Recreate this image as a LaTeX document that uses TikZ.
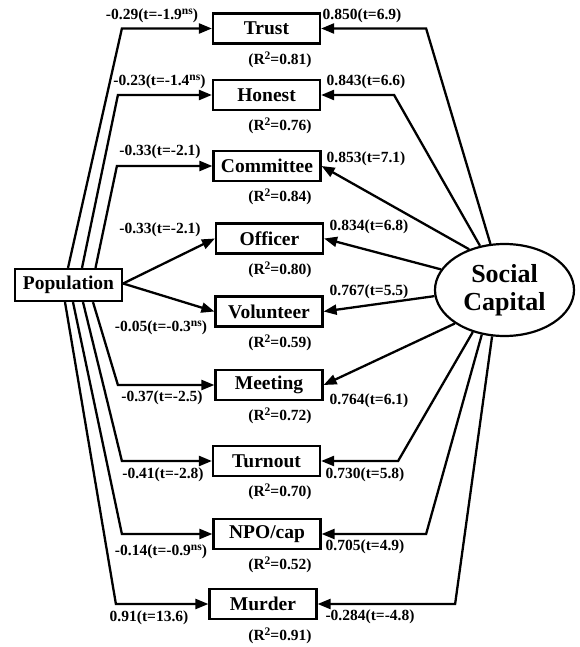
\documentclass[tikz,border=0pt]{standalone}
\usepackage{fontspec}
\setmainfont{Liberation Serif}
\usetikzlibrary{arrows.meta,shapes.geometric}
% raised superscript at about three quarters of the running size
\newcommand\upmark[1]{\raisebox{0.33em}{\fontsize{11.5}{12}\selectfont #1}}
\begin{document}
\begin{tikzpicture}[x=1pt,y=-1pt,
  varbox/.style={draw, line width=2.2pt, minimum width=107pt, minimum height=30pt,
    inner sep=0pt, font=\fontsize{19.5}{21}\selectfont\bfseries},
  latent/.style={ellipse, draw, line width=2.2pt, minimum width=139pt, minimum height=92pt,
    inner sep=0pt, align=center, font=\fontsize{26}{28}\selectfont\bfseries},
  link/.style={line width=2.3pt, line join=miter, -{Triangle[length=13pt,width=10pt]}},
  coef/.style={inner sep=0pt, font=\fontsize{15.5}{17}\selectfont\bfseries},
  rsq/.style={coef}
]
\useasboundingbox (0,0) rectangle (579,647);

% observed indicators
\node[varbox] (trust)     at (266.5,28.5) {Trust};
\node[varbox] (honest)    at (266.5,95)   {Honest};
\node[varbox] (committee) at (267,166)    {Committee};
\node[varbox] (officer)   at (269.5,238.5){Officer};
\node[varbox] (volunteer) at (269,311.5)  {Volunteer};
\node[varbox] (meeting)   at (269,385)    {Meeting};
\node[varbox] (turnout)   at (266.5,461)  {Turnout};
\node[varbox] (npo)       at (267,534)    {NPO/cap};
\node[varbox] (murder)    at (263,604)    {Murder};

% exogenous variable and latent factor
\node[varbox, minimum height=32pt] (pop) at (68.5,285) {Population};
\node[latent] (sc) at (504.5,290) {Social\\Capital};

% paths from Population
\draw[link] ([xshift=-0.5pt]pop.north) -- ([xshift=-90pt]trust.west) -- (trust.west);
\draw[link] ([xshift=13.5pt]pop.north) -- ([xshift=-94pt]honest.west) -- (honest.west);
\draw[link] ([xshift=27pt]pop.north) -- ([xshift=-95.5pt]committee.west) -- (committee.west);
\draw[link] ([yshift=1.5pt]pop.east) -- (officer.west);
\draw[link] ([yshift=1.5pt]pop.east) -- (volunteer.west);
\draw[link] ([xshift=24.5pt]pop.south) -- ([xshift=-96.5pt]meeting.west) -- (meeting.west);
\draw[link] ([xshift=14.5pt]pop.south) -- ([xshift=-90pt]turnout.west) -- (turnout.west);
\draw[link] ([xshift=4.5pt]pop.south) -- ([xshift=-90.5pt]npo.west) -- (npo.west);
\draw[link] ([xshift=-3.5pt]pop.south) -- ([xshift=-92.5pt]murder.west) -- (murder.west);

% loadings from Social Capital
\draw[link] (sc.107) -- ([xshift=105pt]trust.east) -- (trust.east);
\draw[link] (sc.119) -- ([xshift=73pt]honest.east) -- (honest.east);
\draw[link] (sc.131) -- (committee.east);
\draw[link] (sc.162) -- (officer.east);
\draw[link] (sc.185) -- (volunteer.east);
\draw[link] (sc.214) -- (meeting.east);
\draw[link] (sc.233) -- ([xshift=77pt]turnout.east) -- (turnout.east);
\draw[link] (sc.243) -- ([xshift=104.5pt]npo.east) -- (npo.east);
\draw[link] (sc.255) -- ([xshift=137.5pt]murder.east) -- (murder.east);

% Population coefficients
\node[coef] (pc1) at (152,16)  {-0.29(t=-1.9\upmark{ns})};
\node[coef] (pc2) at (159.5,82){-0.23(t=-1.4\upmark{ns})};
\node[coef] (pc3) at (160,152) {-0.33(t=-2.1)};
\node[coef] (pc4) at (160,230) {-0.33(t=-2.1)};
\node[coef] (pc5) at (161,328) {-0.05(t=-0.3\upmark{ns})};
\node[coef] (pc6) at (162,398) {-0.37(t=-2.5)};
\node[coef] (pc7) at (163,475) {-0.41(t=-2.8)};
\node[coef] (pc8) at (161,552) {-0.14(t=-0.9\upmark{ns})};
\node[coef] (pc9) at (149,618) {0.91(t=13.6)};

% factor loadings
\node[coef] (lc1) at (362,16)  {0.850(t=6.9)};
\node[coef] (lc2) at (366,82)  {0.843(t=6.6)};
\node[coef] (lc3) at (366,159) {0.853(t=7.1)};
\node[coef] (lc4) at (369,227) {0.834(t=6.8)};
\node[coef] (lc5) at (369,292) {0.767(t=5.5)};
\node[coef] (lc6) at (369,401) {0.764(t=6.1)};
\node[coef] (lc7) at (365,475) {0.730(t=5.8)};
\node[coef] (lc8) at (365,547) {0.705(t=4.9)};
\node[coef] (lc9) at (370,617) {-0.284(t=-4.8)};

% explained variance
\node[rsq] (r1) at (280,59.5) {(R\upmark{2}=0.81)};
\node[rsq] (r2) at (280,126)  {(R\upmark{2}=0.76)};
\node[rsq] (r3) at (280,197)  {(R\upmark{2}=0.84)};
\node[rsq] (r4) at (280,270)  {(R\upmark{2}=0.80)};
\node[rsq] (r5) at (280,343)  {(R\upmark{2}=0.59)};
\node[rsq] (r6) at (280,416)  {(R\upmark{2}=0.72)};
\node[rsq] (r7) at (280,492)  {(R\upmark{2}=0.70)};
\node[rsq] (r8) at (280,565)  {(R\upmark{2}=0.52)};
\node[rsq] (r9) at (280,636)  {(R\upmark{2}=0.91)};
\end{tikzpicture}
\end{document}
